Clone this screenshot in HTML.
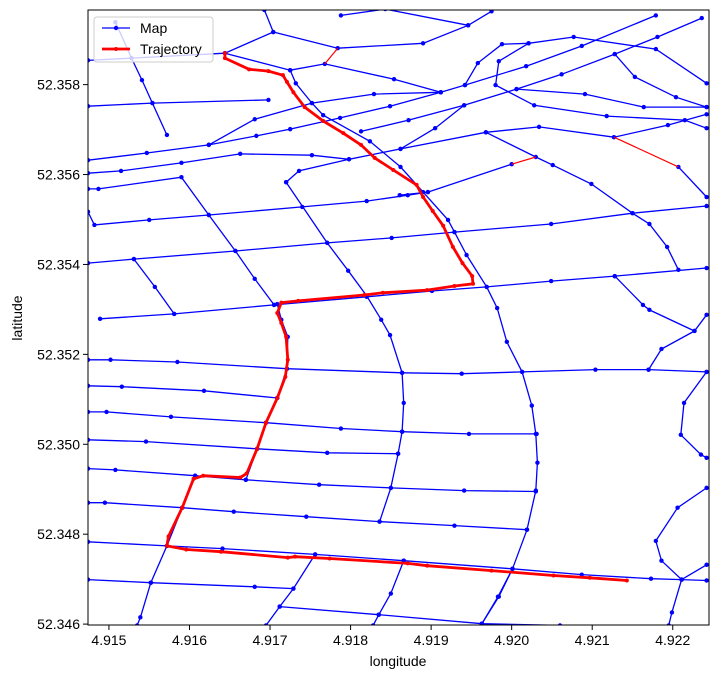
<!DOCTYPE html>
<html><head><meta charset="utf-8">
<style>
body{margin:0;background:#fff;}
svg{display:block;font-family:"Liberation Sans","DejaVu Sans",sans-serif;}
</style></head>
<body>
<svg id="chart" width="717" height="679" viewBox="0 0 717 679" xmlns="http://www.w3.org/2000/svg">
<defs><clipPath id="clip"><rect x="88" y="10" width="621" height="615"/></clipPath></defs>
<rect x="0" y="0" width="717" height="679" fill="#fff"/>
<g id="roads" clip-path="url(#clip)"></g>
<g id="traj" clip-path="url(#clip)"></g>
<rect x="88" y="10" width="621" height="615" fill="none" stroke="#000" stroke-width="1"/>
<g id="xticks"></g>
<g id="yticks"></g>
<text x="398" y="666" font-size="14" text-anchor="middle">longitude</text>
<text x="22" y="318" font-size="14" text-anchor="middle" transform="rotate(-90 22 318)">latitude</text>
<g>
<rect x="94" y="17" width="119" height="45" rx="3" fill="#fff" fill-opacity="0.8" stroke="#ccc"/>
<g>
<line x1="102" y1="28" x2="130" y2="28" stroke="#0000ff" stroke-width="1.3"/>
<circle cx="116" cy="28" r="2.2" fill="#0000ff"/>
<text x="140" y="33" font-size="14">Map</text></g>
<g>
<line x1="102" y1="49" x2="130" y2="49" stroke="#ff0000" stroke-width="2.8"/>
<circle cx="116" cy="49" r="2" fill="#ff0000"/>
<text x="140" y="54" font-size="14">Trajectory</text></g>
</g>
</svg>
<script>
const xTicks=[4.915,4.916,4.917,4.918,4.919,4.920,4.921,4.922];
const yTicks=[52.346,52.348,52.350,52.352,52.354,52.356,52.358];
const xDomain=[4.91474,4.92245];
const yDomain=[52.34598,52.35966];
const roadEdges=[
[[4.91693,52.35966],[4.91704,52.35917],[4.91644,52.35870],[4.91474,52.35854]],
[[4.91704,52.35917],[4.91784,52.35881],[4.91890,52.35892],[4.91946,52.35932],[4.91975,52.35963]],
[[4.91788,52.35954],[4.91843,52.35968],[4.91946,52.35932]],
[[4.91644,52.35870],[4.91725,52.35832],[4.91768,52.35846],[4.91854,52.35812],[4.91912,52.35783]],
[[4.91725,52.35832],[4.91732,52.35803],[4.91752,52.35759],[4.91766,52.35732],[4.91824,52.35674],[4.91862,52.35617],[4.91890,52.35561],[4.91921,52.35499],[4.91929,52.35472],[4.91944,52.35421],[4.91969,52.35350],[4.91982,52.35303],[4.91994,52.35228],[4.92013,52.35161],[4.92025,52.35086],[4.92030,52.35023],[4.92032,52.34959],[4.92030,52.34897],[4.92019,52.34810],[4.92001,52.34723],[4.91984,52.34661],[4.91963,52.34601]],
[[4.91624,52.35666],[4.91681,52.35723],[4.91752,52.35759],[4.91829,52.35779],[4.91912,52.35783]],
[[4.91624,52.35666],[4.91683,52.35686],[4.91725,52.35701],[4.91787,52.35726],[4.91849,52.35752],[4.91912,52.35783]],
[[4.91912,52.35783],[4.91942,52.35799],[4.91958,52.35848],[4.91988,52.35890],[4.92021,52.35892],[4.92077,52.35906],[4.92179,52.35879],[4.92242,52.35803]],
[[4.91942,52.35799],[4.92018,52.35841],[4.92087,52.35886],[4.92179,52.35954]],
[[4.92021,52.35892],[4.91984,52.35852],[4.91980,52.35799],[4.92028,52.35754],[4.92118,52.35730],[4.92215,52.35721],[4.92242,52.35703]],
[[4.91813,52.35696],[4.91872,52.35721],[4.91941,52.35754],[4.92006,52.35790],[4.92062,52.35823],[4.92128,52.35868],[4.92181,52.35906],[4.92236,52.35948]],
[[4.92006,52.35790],[4.92091,52.35779],[4.92164,52.35750],[4.92242,52.35750]],
[[4.92128,52.35868],[4.92153,52.35817],[4.92204,52.35772],[4.92242,52.35750]],
[[4.91474,52.35632],[4.91547,52.35648],[4.91624,52.35666]],
[[4.91474,52.35603],[4.91515,52.35608],[4.91590,52.35626],[4.91663,52.35646],[4.91752,52.35643],[4.91798,52.35634],[4.91862,52.35657],[4.91905,52.35703],[4.91941,52.35754]],
[[4.91862,52.35657],[4.91968,52.35694],[4.92034,52.35706],[4.92127,52.35683],[4.92194,52.35710],[4.92242,52.35734]],
[[4.92207,52.35617],[4.92242,52.35550]],
[[4.91968,52.35694],[4.92030,52.35639],[4.92051,52.35621],[4.92099,52.35579],[4.92150,52.35514],[4.92171,52.35490],[4.92193,52.35439],[4.92207,52.35388]],
[[4.91861,52.35554],[4.91896,52.35561],[4.92000,52.35623]],
[[4.91474,52.35568],[4.91487,52.35568],[4.91590,52.35594],[4.91624,52.35510],[4.91657,52.35430],[4.91681,52.35368],[4.91705,52.35310]],
[[4.91720,52.35583],[4.91736,52.35608],[4.91798,52.35634]],
[[4.91720,52.35583],[4.91771,52.35448],[4.91797,52.35386],[4.91820,52.35330],[4.91838,52.35277],[4.91849,52.35243],[4.91864,52.35159],[4.91866,52.35092],[4.91864,52.35028],[4.91859,52.34979],[4.91850,52.34903],[4.91836,52.34828]],
[[4.91508,52.35939],[4.91528,52.35859],[4.91541,52.35810],[4.91554,52.35759],[4.91572,52.35688]],
[[4.91474,52.35752],[4.91554,52.35759],[4.91698,52.35766]],
[[4.91474,52.35517],[4.91482,52.35488],[4.91550,52.35499],[4.91624,52.35510],[4.91740,52.35528],[4.91820,52.35541],[4.91871,52.35554],[4.91896,52.35561]],
[[4.91474,52.35403],[4.91531,52.35412],[4.91657,52.35430],[4.91771,52.35448],[4.91851,52.35459],[4.91929,52.35472],[4.92049,52.35490],[4.92150,52.35514],[4.92242,52.35530]],
[[4.91531,52.35412],[4.91557,52.35350],[4.91581,52.35290]],
[[4.91489,52.35279],[4.91581,52.35290],[4.91705,52.35310],[4.91820,52.35328],[4.91901,52.35341],[4.91969,52.35350],[4.92049,52.35363],[4.92128,52.35374],[4.92242,52.35392]],
[[4.92128,52.35374],[4.92163,52.35310],[4.92171,52.35299],[4.92227,52.35252],[4.92242,52.35288]],
[[4.91474,52.35188],[4.91502,52.35188],[4.91585,52.35183],[4.91721,52.35168],[4.91864,52.35159],[4.91938,52.35157],[4.92013,52.35161],[4.92104,52.35166],[4.92170,52.35166],[4.92242,52.35161]],
[[4.91474,52.35130],[4.91516,52.35128],[4.91618,52.35119],[4.91709,52.35103]],
[[4.91474,52.35072],[4.91497,52.35072],[4.91577,52.35061],[4.91695,52.35048],[4.91788,52.35035],[4.91864,52.35028],[4.91947,52.35023],[4.92031,52.35023]],
[[4.91474,52.35010],[4.91546,52.35006],[4.91684,52.34990],[4.91771,52.34981],[4.91859,52.34979]],
[[4.91474,52.34946],[4.91508,52.34943],[4.91607,52.34930],[4.91670,52.34921],[4.91761,52.34910],[4.91850,52.34903],[4.91941,52.34897],[4.92030,52.34895]],
[[4.91474,52.34870],[4.91495,52.34870],[4.91591,52.34859],[4.91655,52.34850],[4.91745,52.34839],[4.91836,52.34828],[4.91929,52.34819],[4.92019,52.34810]],
[[4.91474,52.34783],[4.91572,52.34774],[4.91641,52.34768],[4.91756,52.34755],[4.91866,52.34741],[4.92001,52.34723],[4.92087,52.34710],[4.92173,52.34701],[4.92211,52.34699],[4.92242,52.34697]],
[[4.91474,52.34699],[4.91552,52.34692],[4.91681,52.34683],[4.91729,52.34679]],
[[4.91712,52.34639],[4.91835,52.34621],[4.91963,52.34601],[4.92060,52.34597]],
[[4.91572,52.34774],[4.91552,52.34692],[4.91539,52.34615],[4.91535,52.34597]],
[[4.91572,52.34774],[4.91591,52.34859],[4.91607,52.34930]],
[[4.91670,52.34921],[4.91684,52.34990],[4.91695,52.35048],[4.91709,52.35103],[4.91721,52.35168],[4.91722,52.35239],[4.91714,52.35277],[4.91709,52.35312]],
[[4.91756,52.34755],[4.91729,52.34679],[4.91712,52.34639],[4.91695,52.34597]],
[[4.91866,52.34741],[4.91850,52.34668],[4.91835,52.34621],[4.91828,52.34597]],
[[4.92001,52.34723],[4.91983,52.34661],[4.91963,52.34601]],
[[4.92227,52.35252],[4.92186,52.35212],[4.92170,52.35166]],
[[4.92242,52.35161],[4.92214,52.35092],[4.92210,52.35021],[4.92235,52.34977],[4.92242,52.34970]],
[[4.92242,52.34903],[4.92206,52.34859],[4.92179,52.34785],[4.92186,52.34741],[4.92211,52.34699],[4.92242,52.34732]],
[[4.92211,52.34699],[4.92199,52.34626],[4.92195,52.34597]]
];
const redEdges=[
[[4.91768,52.35846],[4.91784,52.35881]],
[[4.92127,52.35683],[4.92207,52.35617]],
[[4.92000,52.35623],[4.92030,52.35639]]
];
const trajLon=[4.91644,4.91644,4.91674,4.91698,4.91716,4.91721,4.91729,4.91743,4.91766,4.91791,4.91813,4.91830,4.91853,4.91882,4.91890,4.91902,4.91915,4.91927,4.91939,4.91951,4.91952,4.91929,4.91895,4.91840,4.91817,4.91735,4.91714,4.91709,4.91714,4.91720,4.91722,4.91719,4.91709,4.91695,4.91684,4.91671,4.91663,4.91617,4.91605,4.91591,4.91574,4.91572,4.91596,4.91639,4.91722,4.91731,4.91774,4.91871,4.91895,4.91975,4.92052,4.92097,4.92143];
const trajLat=[52.35870,52.35859,52.35834,52.35830,52.35821,52.35806,52.35783,52.35750,52.35719,52.35692,52.35666,52.35637,52.35610,52.35577,52.35550,52.35519,52.35486,52.35439,52.35403,52.35374,52.35357,52.35352,52.35343,52.35337,52.35332,52.35319,52.35315,52.35292,52.35270,52.35239,52.35188,52.35150,52.35103,52.35048,52.34990,52.34935,52.34926,52.34930,52.34923,52.34859,52.34795,52.34774,52.34766,52.34761,52.34748,52.34750,52.34746,52.34735,52.34730,52.34719,52.34708,52.34703,52.34697];

const L=88,R=709,T=10,B=625;
function xs(v){return L+(v-xDomain[0])/(xDomain[1]-xDomain[0])*(R-L);}
function ys(v){return B-(v-yDomain[0])/(yDomain[1]-yDomain[0])*(B-T);}
const NS='http://www.w3.org/2000/svg';
function mk(tag){return document.createElementNS(NS,tag);}
const roads=document.getElementById('roads');
roadEdges.forEach(function(edge,i){
  const g=mk('g');
  
  
  const pl=mk('polyline');
  pl.setAttribute('points',edge.map(p=>xs(p[0]).toFixed(1)+','+ys(p[1]).toFixed(1)).join(' '));
  pl.setAttribute('fill','none');pl.setAttribute('stroke','#0000ff');pl.setAttribute('stroke-width','1.3');
  g.appendChild(pl);
  edge.forEach(function(p){
    const c=mk('circle');
    c.setAttribute('cx',xs(p[0]));c.setAttribute('cy',ys(p[1]));c.setAttribute('r','2.2');c.setAttribute('fill','#0000ff');
    g.appendChild(c);
  });
  roads.appendChild(g);
});
redEdges.forEach(function(edge,i){
  const pl=mk('polyline');
  
  
  pl.setAttribute('points',edge.map(p=>xs(p[0]).toFixed(1)+','+ys(p[1]).toFixed(1)).join(' '));
  pl.setAttribute('fill','none');pl.setAttribute('stroke','#ff0000');pl.setAttribute('stroke-width','1.2');
  roads.appendChild(pl);
});
const traj=document.getElementById('traj');
const tl=mk('polyline');


tl.setAttribute('points',trajLon.map((v,i)=>xs(v).toFixed(1)+','+ys(trajLat[i]).toFixed(1)).join(' '));
tl.setAttribute('fill','none');tl.setAttribute('stroke','#ff0000');tl.setAttribute('stroke-width','2.8');tl.setAttribute('stroke-linejoin','round');
traj.appendChild(tl);
trajLon.forEach(function(v,i){
  const c=mk('circle');
  
  
  c.setAttribute('cx',xs(v));c.setAttribute('cy',ys(trajLat[i]));c.setAttribute('r','2');c.setAttribute('fill','#ff0000');
  traj.appendChild(c);
});
const xg=document.getElementById('xticks');
xTicks.forEach(function(t){
  const x=xs(t);
  const ln=mk('line');
  
  
  ln.setAttribute('x1',x);ln.setAttribute('x2',x);ln.setAttribute('y1',B);ln.setAttribute('y2',B+5);ln.setAttribute('stroke','#000');
  xg.appendChild(ln);
  const tx=mk('text');
  
  
  tx.setAttribute('x',x);tx.setAttribute('y',B+20);tx.setAttribute('font-size','14');tx.setAttribute('text-anchor','middle');
  tx.textContent=t.toFixed(3);
  xg.appendChild(tx);
});
const yg=document.getElementById('yticks');
yTicks.forEach(function(t){
  const y=ys(t);
  const ln=mk('line');
  
  
  ln.setAttribute('x1',L-5);ln.setAttribute('x2',L);ln.setAttribute('y1',y);ln.setAttribute('y2',y);ln.setAttribute('stroke','#000');
  yg.appendChild(ln);
  const tx=mk('text');
  
  
  tx.setAttribute('x',L-8);tx.setAttribute('y',y+5);tx.setAttribute('font-size','14');tx.setAttribute('text-anchor','end');
  tx.textContent=t.toFixed(3);
  yg.appendChild(tx);
});
</script>
</body></html>
